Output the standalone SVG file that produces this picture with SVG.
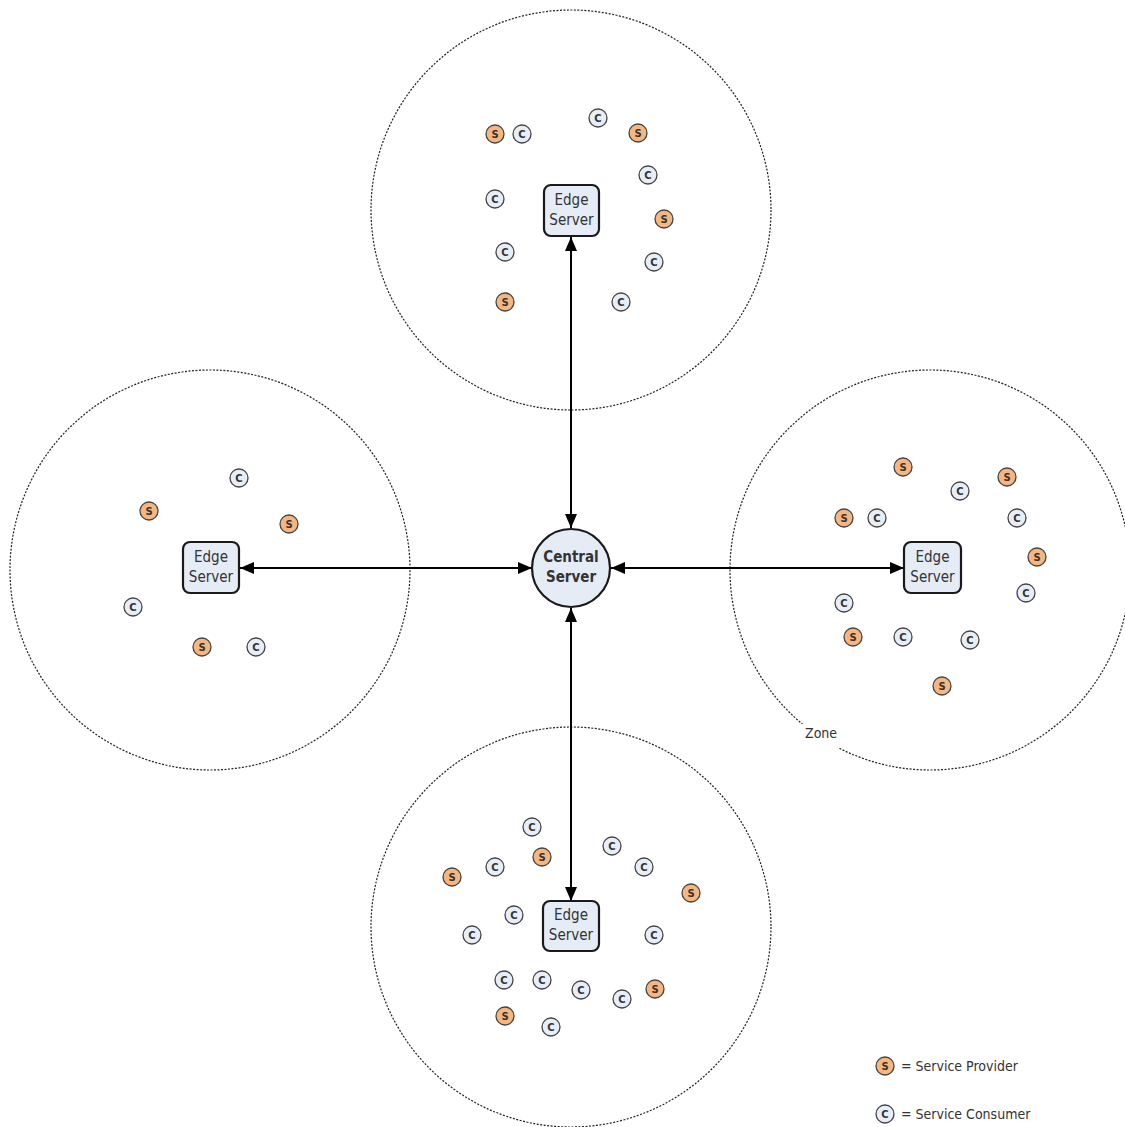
<svg xmlns="http://www.w3.org/2000/svg" width="1125" height="1127" viewBox="0 0 1125 1127">
<style>
.zone{fill:none;stroke:#222;stroke-width:1.2;stroke-dasharray:2 1.5}
.box{fill:#E6ECF6;stroke:#1a1a1a;stroke-width:2.2}
.lbl{font-family:"DejaVu Sans Condensed","DejaVu Sans",sans-serif;font-size:15px;fill:#333;text-anchor:middle}
.s circle{fill:#F5B680;stroke:#444;stroke-width:1.3}
.c circle{fill:#E8EEF8;stroke:#444;stroke-width:1.3}
.n text{font-family:"DejaVu Sans",sans-serif;font-size:10px;font-weight:bold;fill:#333;text-anchor:middle}
.conn line{stroke:#000;stroke-width:2}
.small{font-family:"DejaVu Sans Condensed","DejaVu Sans",sans-serif;font-size:14px;fill:#333}
</style>
<defs>
<marker id="ah" viewBox="0 0 14 12" refX="14" refY="6" markerWidth="14" markerHeight="12" markerUnits="userSpaceOnUse" orient="auto-start-reverse">
<path d="M0,0 L14,6 L0,12 Z" fill="#000"/>
</marker>
<g id="S" class="n s"><circle r="9"/><text y="3.6">S</text></g>
<g id="C" class="n c"><circle r="9"/><text y="3.6">C</text></g>
</defs>
<rect width="1125" height="1127" fill="#fff"/>
<g id="zones">
<circle class="zone" cx="571" cy="210" r="200"/>
<circle class="zone" cx="210" cy="570" r="200"/>
<circle class="zone" cx="930" cy="570" r="200"/>
<circle class="zone" cx="571" cy="927" r="200"/>
<rect x="801" y="724" width="44" height="24" fill="#fff"/>
<text class="small" x="805" y="738">Zone</text>
</g>
<g id="connectors" class="conn">
<line x1="571" y1="237" x2="571" y2="528" marker-start="url(#ah)" marker-end="url(#ah)"/>
<line x1="240" y1="568" x2="532" y2="568" marker-start="url(#ah)" marker-end="url(#ah)"/>
<line x1="611" y1="568" x2="904" y2="568" marker-start="url(#ah)" marker-end="url(#ah)"/>
<line x1="571" y1="608" x2="571" y2="901" marker-start="url(#ah)" marker-end="url(#ah)"/>
</g>
<g id="central">
<circle cx="571" cy="568" r="39" fill="#E6ECF6" stroke="#1a1a1a" stroke-width="2.2"/>
<text class="lbl" x="571" y="562" font-weight="bold">Central</text>
<text class="lbl" x="571" y="582" font-weight="bold">Server</text>
</g>
<g id="edge-top">
<rect class="box" x="544" y="185" width="55" height="51" rx="7"/>
<text class="lbl" x="571.5" y="205">Edge</text><text class="lbl" x="571.5" y="225">Server</text>
</g>
<g id="edge-left">
<rect class="box" x="183" y="542" width="56" height="51" rx="7"/>
<text class="lbl" x="211" y="562">Edge</text><text class="lbl" x="211" y="582">Server</text>
</g>
<g id="edge-right">
<rect class="box" x="904" y="542" width="57" height="51" rx="7"/>
<text class="lbl" x="932.5" y="562">Edge</text><text class="lbl" x="932.5" y="582">Server</text>
</g>
<g id="edge-bottom">
<rect class="box" x="543" y="901" width="56" height="50" rx="7"/>
<text class="lbl" x="571" y="920">Edge</text><text class="lbl" x="571" y="940">Server</text>
</g>
<g id="top-clients">
<use href="#S" x="495" y="134"/><use href="#C" x="522" y="134"/><use href="#C" x="598" y="118"/><use href="#S" x="638" y="133"/>
<use href="#C" x="648" y="175"/><use href="#C" x="495" y="199"/><use href="#S" x="664" y="219"/><use href="#C" x="505" y="252"/>
<use href="#C" x="654" y="262"/><use href="#S" x="505" y="302"/><use href="#C" x="621" y="302"/>
</g>
<g id="left-clients">
<use href="#C" x="239" y="478"/><use href="#S" x="149" y="511"/><use href="#S" x="289" y="524"/><use href="#C" x="133" y="607"/>
<use href="#S" x="202" y="647"/><use href="#C" x="256" y="647"/>
</g>
<g id="right-clients">
<use href="#S" x="903" y="467"/><use href="#S" x="1007" y="477"/><use href="#C" x="960" y="491"/><use href="#S" x="844" y="518"/>
<use href="#C" x="877" y="518"/><use href="#C" x="1017" y="518"/><use href="#S" x="1037" y="557"/><use href="#C" x="1026" y="593"/>
<use href="#C" x="844" y="603"/><use href="#S" x="853" y="637"/><use href="#C" x="903" y="637"/><use href="#C" x="970" y="640"/>
<use href="#S" x="942" y="686"/>
</g>
<g id="bottom-clients">
<use href="#C" x="532" y="827"/><use href="#S" x="542" y="857"/><use href="#C" x="612" y="846"/><use href="#C" x="495" y="867"/>
<use href="#C" x="644" y="867"/><use href="#S" x="452" y="877"/><use href="#S" x="691" y="893"/><use href="#C" x="514" y="915"/>
<use href="#C" x="472" y="935"/><use href="#C" x="654" y="935"/><use href="#C" x="504" y="980"/><use href="#C" x="542" y="980"/>
<use href="#C" x="581" y="990"/><use href="#C" x="622" y="999"/><use href="#S" x="655" y="989"/><use href="#S" x="505" y="1016"/>
<use href="#C" x="551" y="1027"/>
</g>
<g id="legend">
<use href="#S" x="885" y="1066"/><text class="small" x="901" y="1071">= Service Provider</text>
<use href="#C" x="885" y="1114"/><text class="small" x="901" y="1119">= Service Consumer</text>
</g>
</svg>
